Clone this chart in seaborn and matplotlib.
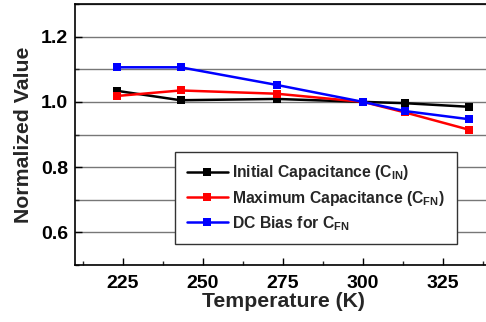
import matplotlib
matplotlib.use("Agg")
import matplotlib.pyplot as plt
from matplotlib.ticker import MultipleLocator, FormatStrFormatter
import pandas as pd
import seaborn as sns

temperature = [223, 243, 273, 300, 313, 333]
initial_cap = [1.034, 1.005, 1.009, 1.000, 0.996, 0.985]
maximum_cap = [1.018, 1.035, 1.025, 1.000, 0.968, 0.915]
dc_bias = [1.106, 1.106, 1.052, 1.000, 0.972, 0.947]

series_names = [
    r"Initial Capacitance (C$_\mathrm{IN}$)",
    r"Maximum Capacitance (C$_\mathrm{FN}$)",
    r"DC Bias for C$_\mathrm{FN}$",
]
series_colors = ["#000000", "#ff0000", "#0000ff"]

frames = []
for name, vals in zip(series_names, [initial_cap, maximum_cap, dc_bias]):
    frames.append(pd.DataFrame({"Temperature": temperature, "Value": vals, "Series": name}))
df = pd.concat(frames, ignore_index=True)

sns.set_style("white")
plt.rcParams["font.family"] = ["Liberation Sans", "DejaVu Sans"]
plt.rcParams["font.weight"] = "bold"
plt.rcParams["mathtext.fontset"] = "custom"
plt.rcParams["mathtext.rm"] = "Liberation Sans:bold"
plt.rcParams["mathtext.it"] = "Liberation Sans:bold"
plt.rcParams["mathtext.bf"] = "Liberation Sans:bold"

fig = plt.figure(figsize=(4.86, 3.22), dpi=100)
ax = fig.add_axes([75 / 486, 57 / 322, 416 / 486, 261 / 322])

sns.lineplot(
    data=df, x="Temperature", y="Value", hue="Series", style="Series",
    palette=dict(zip(series_names, series_colors)),
    markers=["s", "s", "s"], dashes=False, markersize=5.5, linewidth=1.8,
    markeredgewidth=0, ax=ax, sort=False,
)

ax.set_xlim(210, 340)
ax.set_ylim(0.5, 1.3)
ax.xaxis.set_major_locator(MultipleLocator(25))
ax.xaxis.set_minor_locator(MultipleLocator(12.5))
ax.yaxis.set_major_locator(MultipleLocator(0.2))
ax.yaxis.set_minor_locator(MultipleLocator(0.1))
ax.yaxis.set_major_formatter(FormatStrFormatter("%.1f"))

ax.grid(True, axis="y", which="both", color="#777777", linewidth=1)
ax.grid(False, axis="x", which="both")
ax.set_axisbelow(True)

ax.tick_params(axis="both", which="major", direction="in", length=5, width=1,
               labelsize=14, pad=5, colors="black")
ax.tick_params(axis="x", which="major", pad=7)
ax.tick_params(axis="both", which="minor", direction="in", length=3, width=1)
ax.tick_params(axis="y", which="both", left=True)
ax.tick_params(axis="x", which="both", bottom=True)
for lbl in ax.get_xticklabels() + ax.get_yticklabels():
    lbl.set_fontweight("bold")

for sp in ax.spines.values():
    sp.set_color("black")
    sp.set_linewidth(1.2)

ax.set_xlabel("Temperature (K)", fontsize=15.3, fontweight="bold", labelpad=0)
ax.set_ylabel("Normalized Value", fontsize=15.3, fontweight="bold", labelpad=6)

leg = ax.legend(
    loc="upper left", bbox_to_anchor=((175 - 75) / 416, (265 - 151.5) / 261),
    frameon=True, fancybox=False, edgecolor="#333333", framealpha=1,
    handlelength=2.6, handletextpad=0.3, labelspacing=0.4,
    borderpad=0.75, borderaxespad=0, prop={"weight": "bold", "size": 11.3},
)
leg.get_frame().set_linewidth(1)

fig.savefig("out.png", dpi=100)
